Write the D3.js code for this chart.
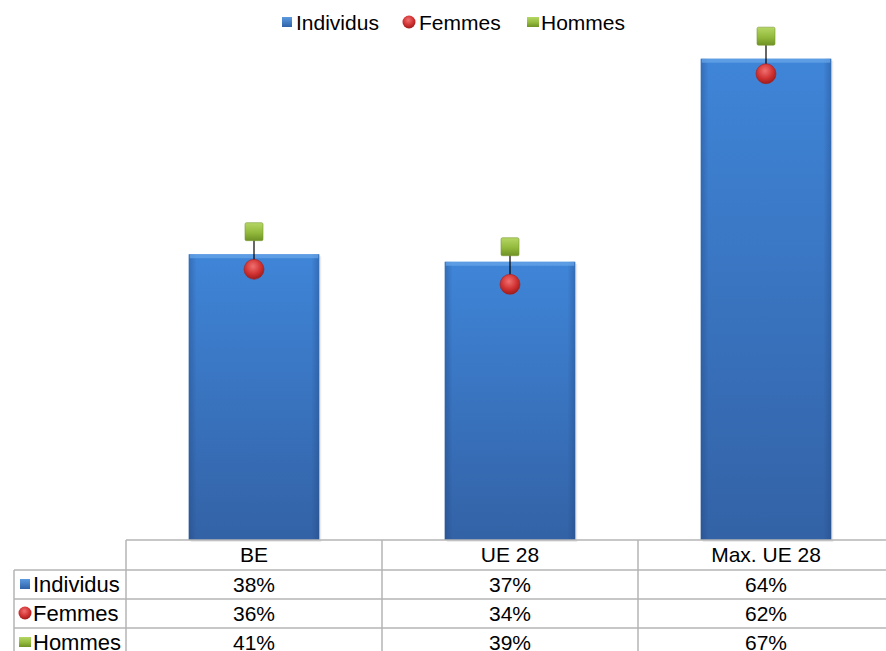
<!DOCTYPE html>
<html>
<head>
<meta charset="utf-8">
<script src="https://cdn.jsdelivr.net/npm/d3@7"></script>
<style>
  html, body { margin: 0; padding: 0; background: #fff; }
  svg { display: block; font-family: "Liberation Sans", Arial, sans-serif; }
</style>
</head>
<body>
<svg id="chart" width="886" height="651"></svg>
<script>
// Categories and series (shares, %)
const categories = ["BE", "UE 28", "Max. UE 28"];
const individus = [38, 37, 64];
const femmes = [36, 34, 62];
const hommes = [41, 39, 67];
const seriesNames = ["Individus", "Femmes", "Hommes"];

const W = 886, H = 651;
const svg = d3.select("#chart");
const defs = svg.append("defs");

// Gradients for the bars and markers
const barGrad = defs.append("linearGradient").attr("id", "barGrad")
  .attr("x1", 0).attr("y1", 0).attr("x2", 0).attr("y2", 1);
barGrad.append("stop").attr("offset", "0%").attr("stop-color", "#3f85d8");
barGrad.append("stop").attr("offset", "100%").attr("stop-color", "#3362a6");

const barSide = defs.append("linearGradient").attr("id", "barSide")
  .attr("x1", 0).attr("y1", 0).attr("x2", 1).attr("y2", 0);
barSide.append("stop").attr("offset", "0%").attr("stop-color", "#1d3f75").attr("stop-opacity", 0.35);
barSide.append("stop").attr("offset", "6%").attr("stop-color", "#1d3f75").attr("stop-opacity", 0);
barSide.append("stop").attr("offset", "94%").attr("stop-color", "#1d3f75").attr("stop-opacity", 0);
barSide.append("stop").attr("offset", "100%").attr("stop-color", "#1d3f75").attr("stop-opacity", 0.35);

const redGrad = defs.append("radialGradient").attr("id", "redGrad")
  .attr("cx", "45%").attr("cy", "35%").attr("r", "65%");
redGrad.append("stop").attr("offset", "0%").attr("stop-color", "#f07070");
redGrad.append("stop").attr("offset", "60%").attr("stop-color", "#d13232");
redGrad.append("stop").attr("offset", "100%").attr("stop-color", "#9e1c1c");

const greenGrad = defs.append("linearGradient").attr("id", "greenGrad")
  .attr("x1", 0).attr("y1", 0).attr("x2", 0).attr("y2", 1);
greenGrad.append("stop").attr("offset", "0%").attr("stop-color", "#b5d665");
greenGrad.append("stop").attr("offset", "55%").attr("stop-color", "#93ba3c");
greenGrad.append("stop").attr("offset", "100%").attr("stop-color", "#6f9225");

const blueSq = defs.append("linearGradient").attr("id", "blueSq")
  .attr("x1", 0).attr("y1", 0).attr("x2", 0).attr("y2", 1);
blueSq.append("stop").attr("offset", "0%").attr("stop-color", "#5c9ae0");
blueSq.append("stop").attr("offset", "100%").attr("stop-color", "#2f62a8");

// Scales
const tableLeft = 126, tableRight = 894;
const x = d3.scaleBand().domain(categories).range([tableLeft, tableRight])
  .paddingInner(0.49).paddingOuter(0.245);
const colX = d3.scaleBand().domain(categories).range([tableLeft, tableRight]);
const y = d3.scaleLinear().domain([0, 70]).range([540, 540 - 70 * 7.52]);

// Bars
const bars = svg.append("g");
categories.forEach((c, i) => {
  const bx = x(c), bw = x.bandwidth(), by = y(individus[i]), bh = y(0) - y(individus[i]);
  bars.append("rect").attr("x", bx + 2).attr("y", by + 2).attr("width", bw).attr("height", bh)
    .attr("fill", "#000").attr("opacity", 0.08);
  bars.append("rect").attr("x", bx).attr("y", by).attr("width", bw).attr("height", bh)
    .attr("fill", "url(#barGrad)");
  bars.append("rect").attr("x", bx).attr("y", by).attr("width", bw).attr("height", bh)
    .attr("fill", "url(#barSide)");
  bars.append("rect").attr("x", bx + 1).attr("y", by).attr("width", bw - 2).attr("height", 4)
    .attr("fill", "#6aa6ea").attr("opacity", 0.7);
});

// High-low lines between Hommes and Femmes
const markers = svg.append("g");
categories.forEach((c, i) => {
  const cx = x(c) + x.bandwidth() / 2;
  markers.append("line").attr("x1", cx).attr("x2", cx)
    .attr("y1", y(hommes[i])).attr("y2", y(femmes[i]))
    .attr("stroke", "#000").attr("stroke-width", 1.2);
});
// Hommes markers (squares)
categories.forEach((c, i) => {
  const cx = x(c) + x.bandwidth() / 2, s = 18;
  markers.append("rect").attr("x", cx - s / 2).attr("y", y(hommes[i]) - s / 2)
    .attr("width", s).attr("height", s).attr("rx", 1.5)
    .attr("fill", "url(#greenGrad)").attr("stroke", "#7b9b30").attr("stroke-width", 0.6);
});
// Femmes markers (circles)
categories.forEach((c, i) => {
  const cx = x(c) + x.bandwidth() / 2;
  markers.append("circle").attr("cx", cx).attr("cy", y(femmes[i])).attr("r", 10)
    .attr("fill", "url(#redGrad)").attr("stroke", "#a52020").attr("stroke-width", 0.6);
});

// Legend symbols
function legendSymbol(g, k, cx, cy, s) {
  if (k === 0) {
    g.append("rect").attr("x", cx - s / 2).attr("y", cy - s / 2).attr("width", s).attr("height", s)
      .attr("fill", "url(#blueSq)");
  } else if (k === 1) {
    g.append("circle").attr("cx", cx).attr("cy", cy).attr("r", s * 0.65)
      .attr("fill", "url(#redGrad)");
  } else {
    g.append("rect").attr("x", cx - s * 0.6).attr("y", cy - s / 2).attr("width", s * 1.2).attr("height", s)
      .attr("fill", "url(#greenGrad)");
  }
}

// Legend at the top
const legend = svg.append("g");
const legendItems = [{sx: 287, tx: 296}, {sx: 409, tx: 419}, {sx: 533, tx: 541}];
seriesNames.forEach((n, k) => {
  legendSymbol(legend, k, legendItems[k].sx, 22, 10);
  legend.append("text").attr("x", legendItems[k].tx).attr("y", 22).attr("dy", "0.36em")
    .attr("font-size", 21).attr("fill", "#000").text(n);
});

// Data table
const table = svg.append("g");
const rowTop = [540, 570, 599, 628];
const rowH = 29;
const lineCol = "#b4b4b4";
// horizontal lines
table.append("line").attr("x1", tableLeft).attr("x2", W).attr("y1", rowTop[0]).attr("y2", rowTop[0])
  .attr("stroke", lineCol).attr("stroke-width", 1.5);
[1, 2, 3].forEach(r => {
  table.append("line").attr("x1", 14).attr("x2", W).attr("y1", rowTop[r]).attr("y2", rowTop[r])
    .attr("stroke", lineCol).attr("stroke-width", 1.5);
});
// vertical lines
table.append("line").attr("x1", 14).attr("x2", 14).attr("y1", rowTop[1]).attr("y2", H)
  .attr("stroke", lineCol).attr("stroke-width", 1.5);
categories.forEach(c => {
  table.append("line").attr("x1", colX(c)).attr("x2", colX(c)).attr("y1", rowTop[0]).attr("y2", H)
    .attr("stroke", lineCol).attr("stroke-width", 1.5);
});
// column headers
categories.forEach(c => {
  table.append("text").attr("x", colX(c) + colX.bandwidth() / 2).attr("y", rowTop[0] + rowH / 2)
    .attr("dy", "0.36em").attr("text-anchor", "middle").attr("font-size", 21).text(c);
});
// rows
const rows = [individus, femmes, hommes];
rows.forEach((vals, r) => {
  const cy = rowTop[r + 1] + rowH / 2 - 0.5;
  legendSymbol(table, r, 25, cy, 10);
  table.append("text").attr("x", 33).attr("y", cy).attr("dy", "0.36em")
    .attr("font-size", 22).text(seriesNames[r]);
  categories.forEach((c, i) => {
    table.append("text").attr("x", colX(c) + colX.bandwidth() / 2).attr("y", cy)
      .attr("dy", "0.36em").attr("text-anchor", "middle").attr("font-size", 21)
      .text(vals[i] + "%");
  });
});
</script>
</body>
</html>
